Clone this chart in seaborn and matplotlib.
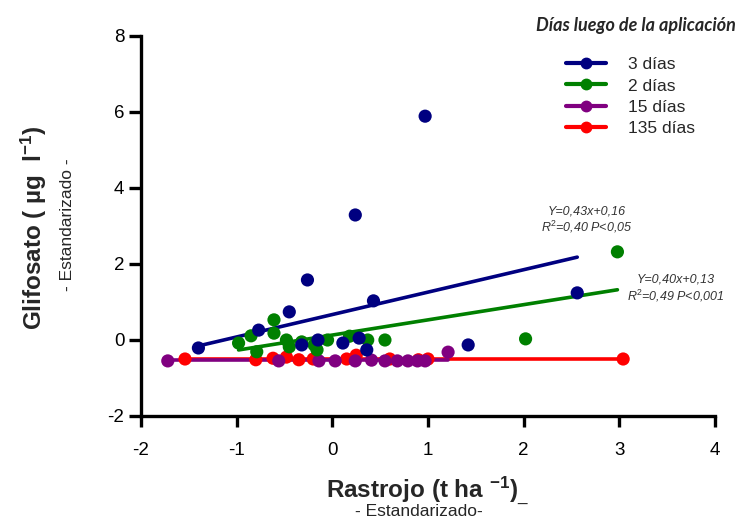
import numpy as np
import pandas as pd
import matplotlib
matplotlib.use("Agg")
import matplotlib.pyplot as plt
import seaborn as sns
from matplotlib.lines import Line2D

# ---------------- data ----------------
series_names = ["3 días", "2 días", "15 días", "135 días"]
series_colors = ["#000080", "#008000", "#800080", "#FF0000"]

x_3d = [-1.40, -0.77, -0.45, -0.26, -0.32, -0.15, 0.11, 0.28, 0.36, 0.24, 0.43, 0.97, 1.42, 2.56]
y_3d = [-0.21, 0.26, 0.74, 1.58, -0.13, 0.00, -0.08, 0.05, -0.26, 3.29, 1.03, 5.89, -0.13, 1.24]

x_2d = [-0.98, -0.85, -0.61, -0.61, -0.79, -0.48, -0.45, -0.32, -0.19, -0.16, -0.05, 0.18, 0.37, 0.55, 2.02, 2.98]
y_2d = [-0.08, 0.11, 0.53, 0.18, -0.31, 0.00, -0.18, -0.05, -0.13, -0.26, 0.00, 0.10, 0.00, 0.00, 0.03, 2.32]

x_15d = [-1.72, -0.56, -0.14, 0.03, 0.24, 0.41, 0.55, 0.68, 0.79, 0.89, 0.97, 1.21]
y_15d = [-0.55, -0.55, -0.55, -0.55, -0.55, -0.53, -0.55, -0.55, -0.55, -0.55, -0.55, -0.32]

x_135d = [-1.54, -0.80, -0.62, -0.48, -0.35, -0.20, 0.15, 0.25, 0.60, 0.90, 1.00, 3.04]
y_135d = [-0.50, -0.52, -0.48, -0.45, -0.52, -0.50, -0.50, -0.40, -0.50, -0.52, -0.50, -0.50]

# fitted lines (slope, intercept) as drawn in the reference
fit_slope = [0.59, 0.40, 0.00, 0.00]
fit_intercept = [0.67, 0.13, -0.53, -0.50]

annot_1 = ["Y=0,43x+0,16", "R$^2$=0,40 P<0,05"]
annot_2 = ["Y=0,40x+0,13", "R$^2$=0,49 P<0,001"]

x_ticks = [-2, -1, 0, 1, 2, 3, 4]
y_ticks = [-2, 0, 2, 4, 6, 8]

# ---------------- build frame ----------------
xs = [x_3d, x_2d, x_15d, x_135d]
ys = [y_3d, y_2d, y_15d, y_135d]
frames = []
for name, xv, yv in zip(series_names, xs, ys):
    frames.append(pd.DataFrame({"x": xv, "y": yv, "serie": name}))
df = pd.concat(frames, ignore_index=True)

sns.set_theme(style="white")
plt.rcParams["font.family"] = ["Liberation Sans", "DejaVu Sans"]
plt.rcParams["mathtext.fontset"] = "custom"
plt.rcParams["mathtext.rm"] = "Liberation Sans"
plt.rcParams["mathtext.it"] = "Liberation Sans:italic"
plt.rcParams["mathtext.bf"] = "Liberation Sans:bold"

fig = plt.figure(figsize=(7.45, 5.25), dpi=100)
ax = fig.add_axes([141/745, 1-416/525, (715-141)/745, (416-36)/525])

draw_order = ["135 días", "15 días", "2 días", "3 días"]
for name in draw_order:
    i = series_names.index(name)
    sub = df[df["serie"] == name]
    xr = np.array([sub["x"].min(), sub["x"].max()])
    line_df = pd.DataFrame({"x": xr, "y": fit_slope[i] * xr + fit_intercept[i]})
    sns.lineplot(data=line_df, x="x", y="y", ax=ax, color=series_colors[i],
                 linewidth=2.6, zorder=2, legend=False)
    sns.scatterplot(data=sub, x="x", y="y", ax=ax, color=series_colors[i],
                    s=90, edgecolor="none", zorder=3, legend=False)

ax.set_xlim(-2, 4)
ax.set_ylim(-2, 8)
ax.set_xticks(x_ticks)
ax.set_yticks(y_ticks)
ax.set_xticklabels([str(t) for t in x_ticks])
ax.set_yticklabels([str(t) for t in y_ticks])
ax.set_xlabel("")
ax.set_ylabel("")
for s in ["top", "right"]:
    ax.spines[s].set_visible(False)
for s in ["left", "bottom"]:
    ax.spines[s].set_linewidth(2.4)
    ax.spines[s].set_color("black")
ax.tick_params(axis="both", which="major", direction="out", width=2.4,
               labelsize=13.5, color="black", labelcolor="black",
               bottom=True, left=True)
ax.tick_params(axis="x", length=8, pad=11)
ax.tick_params(axis="y", length=9, pad=3)

# annotations
ann_font = dict(fontsize=9, style="italic", color="#333333", ha="center", va="center",
                family=["Liberation Sans Narrow", "Liberation Sans", "DejaVu Sans"])
fig.text(587/745, 1-211/525, annot_1[0], **ann_font)
fig.text(587/745, 1-227/525, annot_1[1], **ann_font)
fig.text(676/745, 1-280/525, annot_2[0], **ann_font)
fig.text(676/745, 1-296/525, annot_2[1], **ann_font)

# axis labels
fig.text(34/745, 1-228/525, "Glifosato ( µg  l$^{\\mathbf{-1}}$)", rotation=90,
         fontsize=17.5, fontweight="bold", ha="center", va="center")
fig.text(68/745, 1-225/525, "- Estandarizado -", rotation=90,
         fontsize=12.5, ha="center", va="center")
fig.text(428/745, 1-490/525, "Rastrojo (t ha $^{\\mathbf{-1}}$)$_{\\_}$",
         fontsize=17.5, fontweight="bold", ha="center", va="center")
fig.text(419/745, 1-512/525, "- Estandarizado-", fontsize=12.5, ha="center", va="center")

# legend
handles = [Line2D([0], [0], color=c, linewidth=3, marker="o", markersize=7.5)
           for c in series_colors]
fig.legend(handles, series_names, loc="upper left",
           bbox_to_anchor=(566/745, 1-57/525), frameon=False, fontsize=12.5,
           handlelength=2.3, handletextpad=1.3, labelspacing=0.36, borderaxespad=0,
           borderpad=0)
fig.text(636/745, 1-25/525, "Días luego de la aplicación", fontsize=13,
         fontweight="bold", style="italic", ha="center", va="center",
         family=["Lato", "DejaVu Sans"])

fig.savefig("out.png", dpi=100)
